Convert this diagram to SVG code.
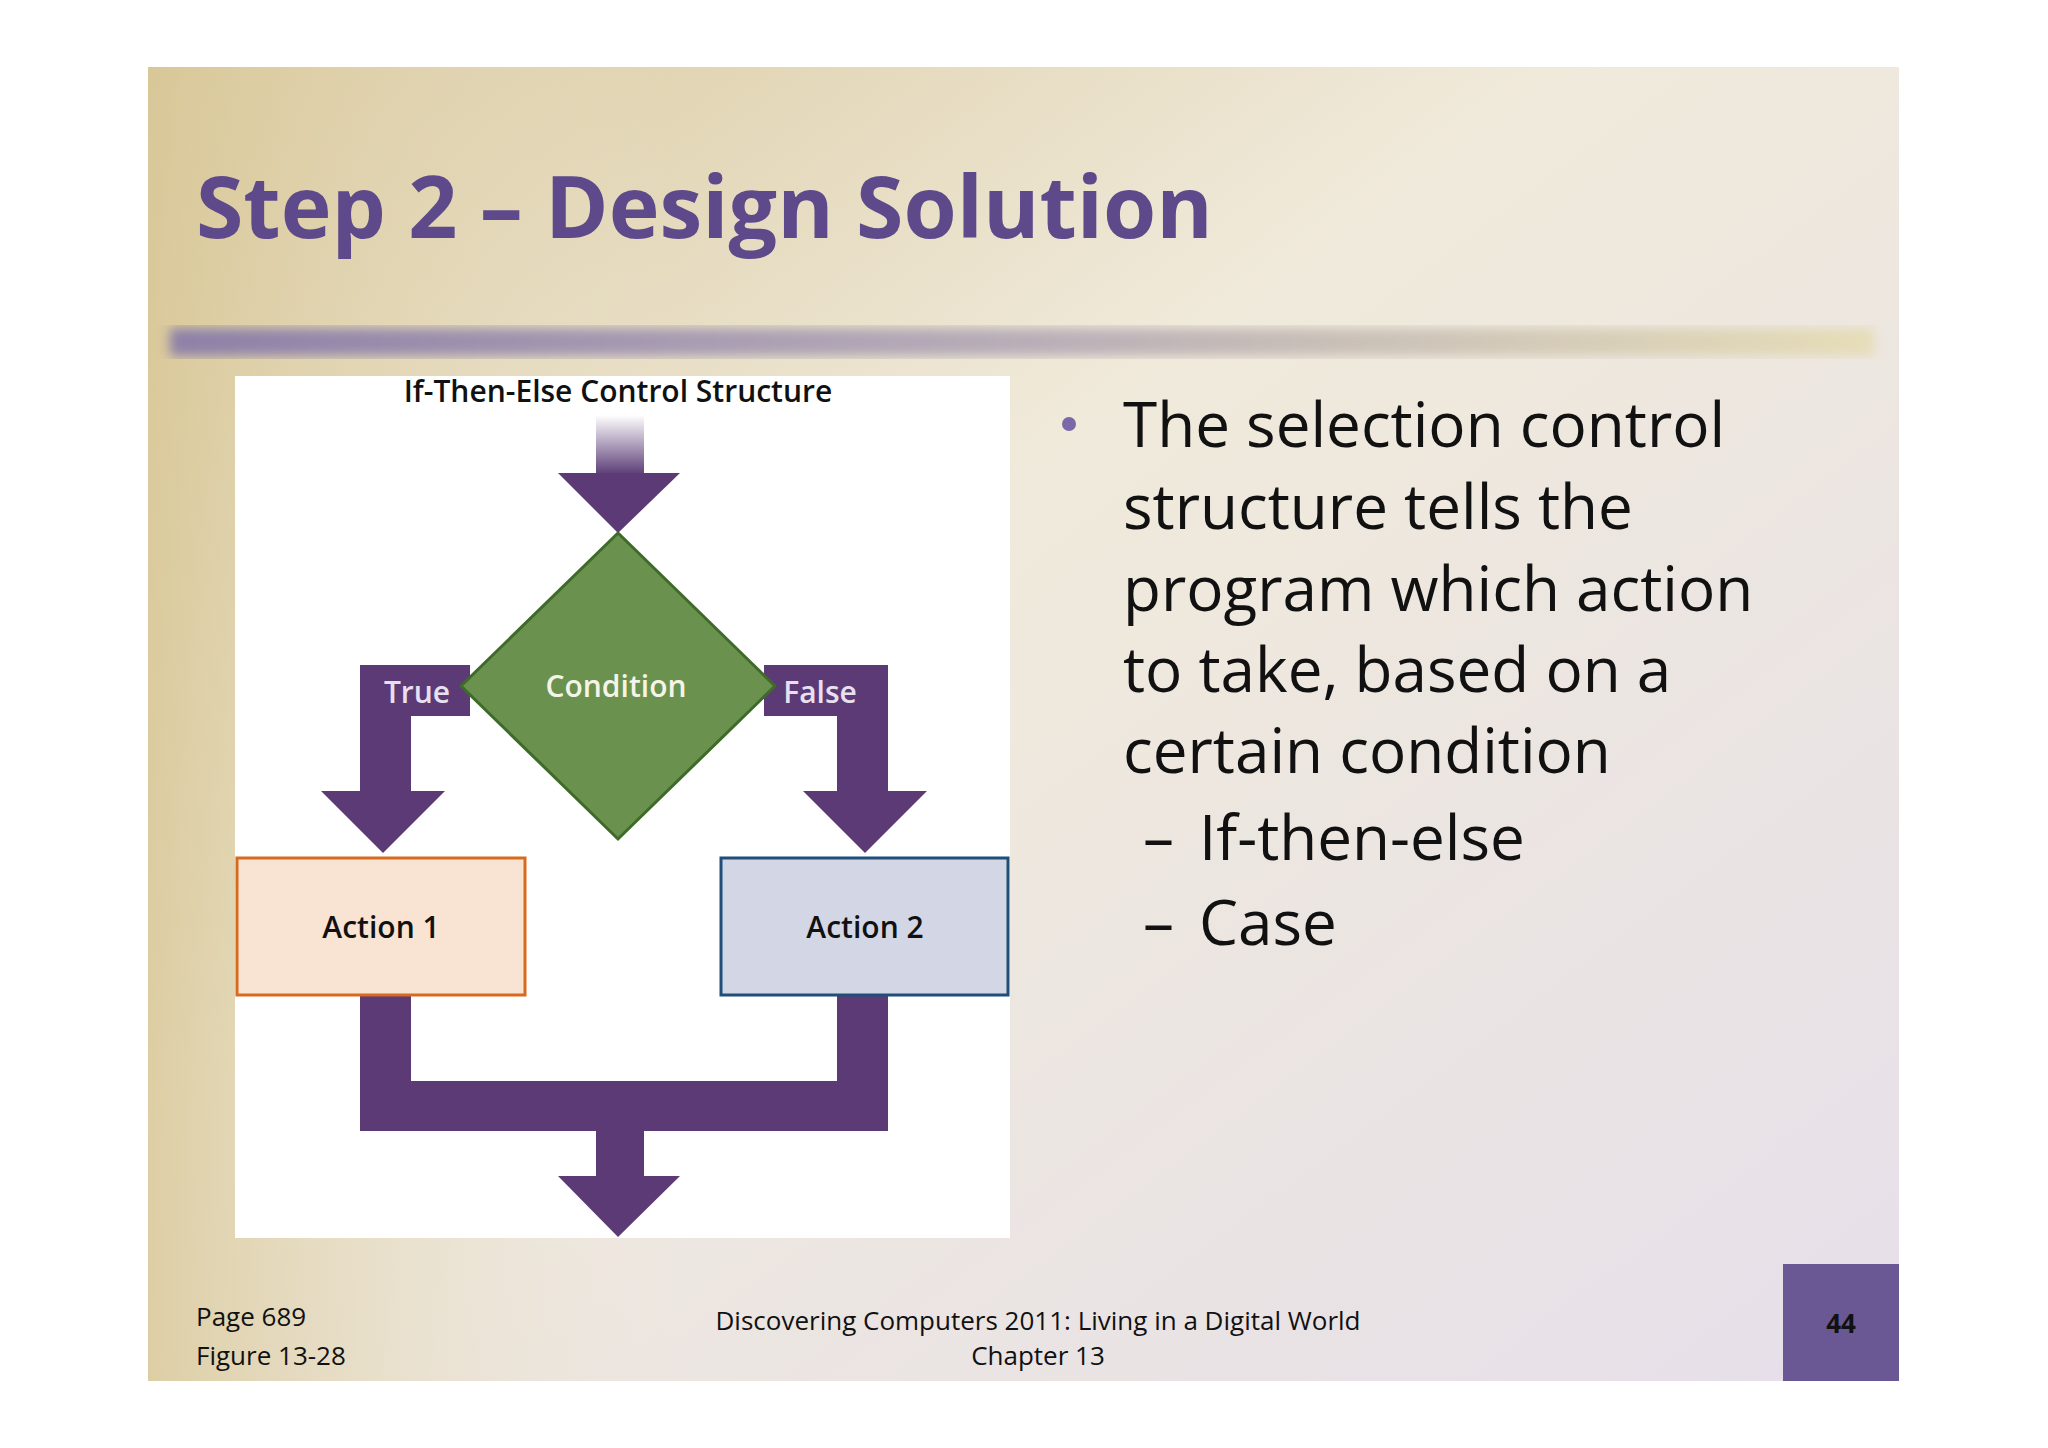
<svg xmlns="http://www.w3.org/2000/svg" width="2048" height="1448" viewBox="0 0 2048 1448">
<defs>
<linearGradient id="bg" x1="0" y1="0" x2="1" y2="1">
<stop offset="0" stop-color="#d9c89c"/><stop offset="0.4" stop-color="#f0eadb"/><stop offset="1" stop-color="#e6dfea"/>
</linearGradient>
<linearGradient id="bgl" x1="0" y1="0" x2="1" y2="0">
<stop offset="0" stop-color="#d8c796" stop-opacity="0.8"/><stop offset="0.3" stop-color="#efe8d8" stop-opacity="0"/>
</linearGradient>
<linearGradient id="bar" x1="0" y1="0" x2="1" y2="0">
<stop offset="0" stop-color="#8d80a8"/><stop offset="0.5" stop-color="#b8aeb8"/><stop offset="1" stop-color="#e6ddb8"/>
</linearGradient>
<linearGradient id="shaft" x1="0" y1="0" x2="0" y2="1">
<stop offset="0" stop-color="#ffffff"/><stop offset="1" stop-color="#5b3c76"/>
</linearGradient>
<filter id="blur"><feGaussianBlur stdDeviation="6"/></filter>
<style>
.p{fill:#5b3a75}
.ft{font-family:"Open Sans","Liberation Sans",sans-serif}
.lab{font-family:"Open Sans","Liberation Sans",sans-serif;font-weight:600;font-size:30px;text-anchor:middle}
.body{font-family:"Open Sans","Liberation Sans",sans-serif;font-size:62px;fill:#111}
.foot{font-family:"Open Sans","Liberation Sans",sans-serif;font-size:26px;fill:#111}
</style>
</defs>
<rect width="2048" height="1448" fill="#fff"/>
<rect x="148" y="67" width="1751" height="1314" fill="url(#bg)"/>
<rect x="148" y="67" width="1751" height="1314" fill="url(#bgl)"/>
<text x="196" y="238" class="ft" font-size="86" font-weight="bold" fill="#5e4a8a">Step 2 – Design Solution</text>
<rect x="170" y="328" width="1704" height="28" fill="url(#bar)" filter="url(#blur)"/>
<g id="figure">
<rect x="235" y="376" width="775" height="862" fill="#fff"/>
<text x="618" y="402" class="lab" fill="#111" font-size="29">If-Then-Else Control Structure</text>
</g>
<g id="connectors">
<rect x="596" y="415" width="48" height="60" fill="url(#shaft)"/>
<polygon class="p" points="558,473 680,473 618,533"/>
<path class="p" d="M360,665H470V716H411V791H445L383,853L321,791H360Z"/>
<path class="p" d="M764,665H888V791H927L865,853L803,791H837V716H764Z"/>
<path class="p" d="M360,995H411V1081H837V995H888V1131H644V1176H680L618,1237L558,1176H596V1131H360Z"/>
<text x="417" y="703" class="lab" fill="#e8e0f0" font-weight="400">True</text>
<text x="820" y="703" class="lab" fill="#e8e0f0" font-weight="400">False</text>
</g>
<g id="condition">
<polygon points="618,533 775,686 618,839 461,686" fill="#6a914d" stroke="#3e6b2a" stroke-width="3"/>
<text x="616" y="697" class="lab" fill="#f4f4e8">Condition</text>
</g>
<g id="action1">
<rect x="237" y="858" width="288" height="137" fill="#f9e3d3" stroke="#d86a1e" stroke-width="3"/>
<text x="381" y="938" class="lab" fill="#111">Action 1</text>
</g>
<g id="action2">
<rect x="721" y="858" width="287" height="137" fill="#d3d7e5" stroke="#1f4e79" stroke-width="3"/>
<text x="865" y="938" class="lab" fill="#111">Action 2</text>
</g>
<g id="bullets">
<circle cx="1069" cy="424" r="7" fill="#7a68a8"/>
<text class="body" x="1123" y="447">The selection control</text>
<text class="body" x="1123" y="529">structure tells the</text>
<text class="body" x="1123" y="611">program which action</text>
<text class="body" x="1123" y="692">to take, based on a</text>
<text class="body" x="1123" y="773">certain condition</text>
<text class="body" x="1143" y="860" font-size="54" fill="#7a68a8">–</text>
<text class="body" x="1199" y="860" font-size="54">If-then-else</text>
<text class="body" x="1143" y="945" font-size="54" fill="#7a68a8">–</text>
<text class="body" x="1199" y="945" font-size="54">Case</text>
</g>
<text class="foot" x="196" y="1326">Page 689</text>
<text class="foot" x="196" y="1365">Figure 13-28</text>
<text class="foot" x="1038" y="1330" text-anchor="middle">Discovering Computers 2011: Living in a Digital World</text>
<text class="foot" x="1038" y="1365" text-anchor="middle">Chapter 13</text>
<rect x="1783" y="1264" width="116" height="117" fill="#6a5894"/>
<text class="foot" x="1841" y="1333" text-anchor="middle" fill="#fff" font-weight="bold">44</text>
</svg>
